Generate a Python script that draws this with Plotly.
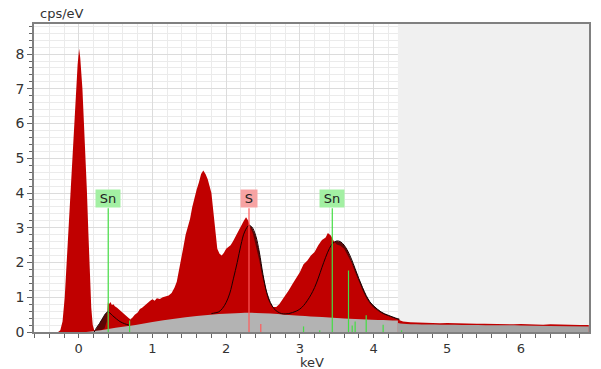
import plotly.graph_objects as go

# ---------------- data ----------------
spec_E = [-0.607, -0.28, -0.25, -0.22, -0.19, -0.16, -0.13, -0.10, -0.07, -0.04, -0.015, 0.005,
          0.02, 0.05, 0.08, 0.11, 0.13, 0.15, 0.17, 0.19, 0.21, 0.25, 0.30, 0.35, 0.38, 0.395,
          0.41, 0.43, 0.45, 0.47, 0.49, 0.52, 0.55, 0.58, 0.61, 0.64, 0.67, 0.70, 0.73, 0.76,
          0.80, 0.83, 0.86, 0.90, 0.93, 0.97, 1.00, 1.03, 1.06, 1.10, 1.14, 1.18, 1.22, 1.26,
          1.30, 1.33, 1.36, 1.39, 1.42, 1.45, 1.48, 1.51, 1.54, 1.57, 1.60, 1.63, 1.66, 1.69,
          1.72, 1.75, 1.78, 1.80, 1.82, 1.84, 1.86, 1.88, 1.91, 1.94, 1.97, 2.00, 2.03, 2.06,
          2.09, 2.12, 2.15, 2.18, 2.21, 2.24, 2.27, 2.30, 2.33, 2.36, 2.39, 2.42, 2.45, 2.48,
          2.51, 2.54, 2.57, 2.60, 2.64, 2.68, 2.72, 2.76, 2.80, 2.85, 2.90, 2.95, 3.00, 3.05,
          3.10, 3.15, 3.20, 3.25, 3.30, 3.35, 3.38, 3.42, 3.46, 3.50, 3.55, 3.60, 3.65, 3.70,
          3.75, 3.80, 3.85, 3.90, 3.95, 4.00, 4.05, 4.10, 4.15, 4.20, 4.25, 4.30, 4.35, 4.40,
          4.50, 4.60, 4.70, 4.80, 4.90, 5.00, 5.10, 5.20, 5.30, 5.40, 5.50, 5.60, 5.70, 5.80,
          5.90, 6.00, 6.10, 6.20, 6.30, 6.40, 6.50, 6.60, 6.70, 6.80, 6.92]
spec_cps = [0.0, 0.0, 0.05, 0.3, 1.0, 2.2, 3.4, 4.4, 5.5, 6.7, 7.7, 8.15,
            7.9, 7.0, 5.7, 4.1, 2.9, 1.7, 0.7, 0.2, 0.05, 0.03, 0.05, 0.1, 0.3, 0.85,
            0.8, 0.86, 0.78, 0.8, 0.74, 0.7, 0.64, 0.58, 0.52, 0.46, 0.40, 0.36, 0.42, 0.50,
            0.56, 0.66, 0.70, 0.78, 0.84, 0.90, 0.94, 0.90, 0.97, 0.95, 1.0, 1.02, 1.05, 1.12,
            1.28, 1.45, 1.75, 2.05, 2.45, 2.8, 3.0, 3.25, 3.6, 3.9, 4.1, 4.3, 4.55, 4.65,
            4.55, 4.4, 4.2, 4.0, 3.6, 3.2, 2.7, 2.4, 2.25, 2.2, 2.28, 2.4, 2.45, 2.5,
            2.6, 2.72, 2.85, 3.0, 3.1, 3.2, 3.3, 3.2, 3.0, 2.85, 2.6, 2.35, 2.05, 1.7,
            1.4, 1.15, 0.93, 0.8, 0.72, 0.72, 0.8, 0.92, 1.05, 1.2, 1.38, 1.55, 1.72, 1.95,
            2.05, 2.2, 2.3, 2.5, 2.65, 2.72, 2.85, 2.78, 2.62, 2.52, 2.48, 2.4, 2.22, 2.0,
            1.72, 1.45, 1.2, 0.98, 0.82, 0.7, 0.62, 0.55, 0.5, 0.46, 0.42, 0.38, 0.33, 0.3,
            0.28, 0.27, 0.26, 0.27, 0.25, 0.26, 0.25, 0.24, 0.25, 0.24, 0.24, 0.23, 0.24, 0.23,
            0.22, 0.23, 0.22, 0.22, 0.21, 0.22, 0.21, 0.2, 0.21, 0.2, 0.2]

bg_left_E = [0.10, 0.30, 0.50, 0.70, 1.00, 1.30, 1.60, 1.90, 2.20, 2.40, 2.60, 2.80, 3.00,
             3.30, 3.60, 3.90, 4.20, 4.33]
bg_left_cps = [0.0, 0.05, 0.12, 0.18, 0.29, 0.38, 0.46, 0.52, 0.55, 0.55, 0.53, 0.50, 0.47,
               0.43, 0.39, 0.36, 0.34, 0.33]
bg_right_E = [4.33, 4.40, 5.00, 6.00, 6.92]
bg_right_cps = [0.26, 0.24, 0.21, 0.19, 0.16]

fit_m_E = [0.21, 0.24, 0.28, 0.32, 0.36, 0.39, 0.42, 0.46, 0.51, 0.56, 0.62, 0.68]
fit_m_cps = [0.0, 0.12, 0.24, 0.38, 0.52, 0.58, 0.55, 0.47, 0.38, 0.30, 0.24, 0.20]

fit_l_E = [1.80, 1.85, 1.90, 1.95, 2.00, 2.05, 2.10, 2.15, 2.20, 2.25, 2.31, 2.35, 2.40,
           2.45, 2.50, 2.55, 2.60, 2.65, 2.70, 2.75, 2.80, 2.85, 2.90, 2.95, 3.00, 3.05,
           3.10, 3.15, 3.20, 3.25, 3.30, 3.35, 3.40, 3.45, 3.50, 3.55, 3.60, 3.65, 3.70,
           3.75, 3.80, 3.85, 3.90, 3.95, 4.00, 4.05, 4.10, 4.15, 4.20, 4.25, 4.30, 4.35]
fit_l_cps = [0.53, 0.55, 0.58, 0.68, 0.85, 1.12, 1.55, 2.0, 2.5, 2.88, 3.07, 3.02, 2.78,
             2.3, 1.65, 1.15, 0.85, 0.67, 0.58, 0.53, 0.52, 0.53, 0.56, 0.60, 0.66, 0.76,
             0.90, 1.07, 1.28, 1.55, 1.86, 2.15, 2.40, 2.56, 2.62, 2.60, 2.50, 2.33, 2.10,
             1.82, 1.54, 1.28, 1.05, 0.87, 0.75, 0.66, 0.58, 0.52, 0.48, 0.44, 0.40, 0.37]

# element marker lines
line_E = [0.40, 2.31, 3.44, 0.69, 2.47, 3.05, 3.27, 3.66, 3.71, 3.75, 3.90, 4.13, 4.38]
line_h = [3.56, 3.56, 3.56, 0.33, 0.23, 0.16, 0.05, 1.77, 0.19, 0.30, 0.48, 0.21, 0.05]
line_el = ["Sn", "S", "Sn", "Sn", "S", "Sn", "Sn", "Sn", "Sn", "Sn", "Sn", "Sn", "Sn"]

label_E = [0.40, 2.31, 3.44]
label_text = ["Sn", "S", "Sn"]
label_y = [3.56, 3.56, 3.56]

SHADE_START = 4.33
X_RANGE = [-0.607, 6.923]
Y_RANGE = [0, 8.866]

RED = "#c00000"
MAROON = "#5e0505"
EL_LINE = {"Sn": "#44dd44", "S": "#ff5a5a"}
EL_BOX = {"Sn": "#a3f0a3", "S": "#f7a3a3"}
BOX_W = {"Sn": 22, "S": 14}

fig = go.Figure()

# shaded (unused) energy region, drawn above the grid
fig.add_trace(go.Scatter(x=[SHADE_START, X_RANGE[1], X_RANGE[1], SHADE_START],
                         y=[Y_RANGE[0], Y_RANGE[0], Y_RANGE[1], Y_RANGE[1]],
                         mode="lines", fill="toself", fillcolor="#f0f0f0",
                         line=dict(width=0, color="#f0f0f0"), hoverinfo="skip",
                         showlegend=False))

# fitted peak fills (under the spectrum)
for ex, ey in [(fit_m_E, fit_m_cps), (fit_l_E, fit_l_cps)]:
    fig.add_trace(go.Scatter(x=ex, y=ey, mode="lines", fill="tozeroy",
                             fillcolor=MAROON, line=dict(width=0, color=MAROON),
                             hoverinfo="skip", showlegend=False))

# measured spectrum
fig.add_trace(go.Scatter(x=spec_E, y=spec_cps, mode="lines", fill="tozeroy",
                         fillcolor=RED, line=dict(width=0, color=RED),
                         showlegend=False))

# background
fig.add_trace(go.Scatter(x=bg_left_E, y=bg_left_cps, mode="lines", fill="tozeroy",
                         fillcolor="#b3b3b3", line=dict(width=0, color="#b3b3b3"),
                         line_shape="spline", showlegend=False, hoverinfo="skip"))
fig.add_trace(go.Scatter(x=bg_right_E, y=bg_right_cps, mode="lines", fill="tozeroy",
                         fillcolor="#a3a3a3", line=dict(width=0, color="#a3a3a3"),
                         line_shape="spline", showlegend=False, hoverinfo="skip"))

# fit lines
for ex, ey in [(fit_m_E, fit_m_cps), (fit_l_E, fit_l_cps)]:
    fig.add_trace(go.Scatter(x=ex, y=ey, mode="lines", line=dict(width=1, color="#1a0000"),
                             line_shape="spline", showlegend=False, hoverinfo="skip"))

# element lines
for e, h, el in zip(line_E, line_h, line_el):
    fig.add_trace(go.Scatter(x=[e, e], y=[0, h], mode="lines",
                             line=dict(width=1.2, color=EL_LINE[el]),
                             showlegend=False, hoverinfo="skip"))

for e, t, yv in zip(label_E, label_text, label_y):
    fig.add_annotation(x=e, y=yv, xref="x", yref="y", text=t, showarrow=False,
                       yanchor="bottom", xanchor="center", bgcolor=EL_BOX[t],
                       width=BOX_W[t], height=15, borderpad=1,
                       font=dict(size=13, color="#222"))

fig.add_annotation(x=0.0067, y=1.0, xref="paper", yref="paper", text="cps/eV",
                   showarrow=False, xanchor="left", yanchor="bottom", yshift=1,
                   font=dict(size=13, color="#333"))
fig.add_annotation(x=0.5, y=0, xref="paper", yref="paper", text="keV",
                   showarrow=False, xanchor="center", yanchor="middle", yshift=-30.5,
                   font=dict(size=13, color="#333"))

axis_common = dict(showline=True, mirror=True, linecolor="#808080", linewidth=1.5,
                   ticks="outside", tickcolor="#666", tickwidth=1,
                   showgrid=True, gridcolor="#dcdcdc", gridwidth=1, zeroline=False,
                   automargin=False)

fig.update_xaxes(range=X_RANGE, dtick=1, tick0=0, ticklen=4,
                 tickfont=dict(size=13, color="#333"),
                 minor=dict(dtick=0.2, ticks="outside", ticklen=4, tickcolor="#666",
                            showgrid=True, gridcolor="#ebebeb"),
                 **axis_common)
fig.update_yaxes(range=Y_RANGE, dtick=1, tick0=0, ticklen=5,
                 tickfont=dict(size=14, color="#333"),
                 minor=dict(dtick=0.2, ticks="outside", ticklen=3, tickcolor="#666",
                            showgrid=True, gridcolor="#ebebeb"),
                 **axis_common)

fig.update_layout(width=601, height=369, margin=dict(l=34, r=12, t=24, b=37),
                  plot_bgcolor="white", paper_bgcolor="white",
                  font=dict(family="DejaVu Sans", size=13, color="#333"),
                  showlegend=False)

fig.write_html("out.html", config={"displayModeBar": False},
               post_script="document.body.style.margin='0';")
